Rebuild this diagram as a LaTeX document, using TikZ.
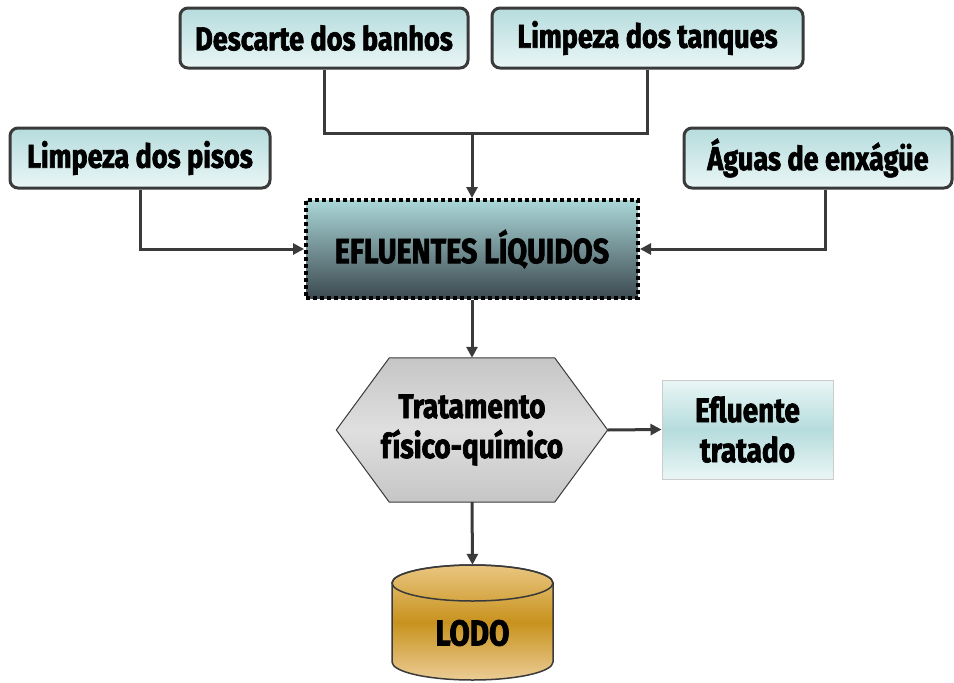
\documentclass[tikz,border=0pt]{standalone}
\usepackage{fontspec}
\setmainfont{Fira Sans}[FakeStretch=0.82, BoldFeatures={FakeBold=2}]
\usetikzlibrary{arrows.meta}
\definecolor{lineg}{HTML}{3A3A3A}
\definecolor{cyanT}{HTML}{B6DCDD}
\definecolor{cyanB}{HTML}{EAF6F6}
\definecolor{eflT}{HTML}{AAD6D8}
\definecolor{eflB}{HTML}{3C4A50}
\definecolor{goldT}{HTML}{E9C680}
\definecolor{goldM}{HTML}{C8921E}
\definecolor{goldB}{HTML}{EBCC95}
\begin{document}
\begin{tikzpicture}[x=1pt,y=1pt,
  txt/.style={font=\fontsize{33}{40}\selectfont\bfseries, text=black, align=center, inner sep=0pt},
  srcbox/.style={txt, draw=lineg, line width=3pt, rounded corners=8pt, top color=cyanT, bottom color=cyanB},
  conn/.style={draw=lineg, line width=3pt},
  arr/.style={conn, -{Triangle[length=11pt,width=11pt]}}]
\useasboundingbox (0,0) rectangle (954,-683);
% source boxes
\node[srcbox, minimum width=288, minimum height=60] (desc) at (324,-38) {Descarte dos banhos};
\node[srcbox, minimum width=311, minimum height=60] (tanq) at (647.5,-38) {Limpeza dos tanques};
\node[srcbox, minimum width=260, minimum height=60] (pisos) at (140,-158) {Limpeza dos pisos};
\node[srcbox, minimum width=268, minimum height=60] (aguas) at (818,-158) {Águas de enxágüe};
% efluentes liquidos
\node[txt, font=\fontsize{35}{40}\selectfont\bfseries, draw=black, line width=4pt, dash pattern=on 4pt off 3pt,
  top color=eflT, bottom color=eflB, minimum width=332, minimum height=98] (efl) at (472,-249) {EFLUENTES LÍQUIDOS};
% hexagon
\node[txt, minimum width=271, minimum height=144] (hex) at (472,-430) {};
\path[draw=lineg, line width=1pt, top color=gray!45, bottom color=gray!45, middle color=gray!25]
  (hex.west) -- ([xshift=53]hex.north west) -- ([xshift=-53]hex.north east) -- (hex.east)
  -- ([xshift=-53]hex.south east) -- ([xshift=53]hex.south west) -- cycle;
\node[txt, font=\fontsize{34}{40}\selectfont\bfseries] at (hex.center) {Tratamento\\físico-químico};
% efluente tratado
\node[txt, font=\fontsize{34}{40}\selectfont\bfseries, draw=gray!40, line width=1pt,
  top color=cyanB, bottom color=cyanB, middle color=cyanT,
  minimum width=171, minimum height=99] (trat) at (747.5,-429.5) {Efluente\\tratado};
% lodo cylinder
\node[minimum width=161, minimum height=115, inner sep=0pt] (lodo) at (472.5,-622.5) {};
\path[draw=lineg, line width=1.5pt, top color=goldT, bottom color=goldB, middle color=goldM]
  (392,-583) -- (392,-662) arc[start angle=180, end angle=360, x radius=80.5pt, y radius=18pt]
  -- (553,-583) arc[start angle=0, end angle=180, x radius=80.5pt, y radius=18pt] -- cycle;
\draw[lineg, line width=1.5pt] (472.5,-583) ellipse[x radius=80.5pt, y radius=18pt];
\node[txt, font=\fontsize{36}{40}\selectfont\bfseries] at (472.5,-633) {LODO};
% connectors
\coordinate (j) at (472,-133);
\draw[conn] (desc.south) |- (j) -| (tanq.south);
\draw[arr] (j) -- (efl.north);
\draw[arr] (pisos.south) |- (efl.west);
\draw[arr] ([xshift=7pt]aguas.south) |- (efl.east);
\draw[arr] (efl.south) -- (hex.north);
\draw[arr] (hex.east) -- (trat.west);
\draw[arr] (hex.south) -- (lodo.north);
\end{tikzpicture}
\end{document}
